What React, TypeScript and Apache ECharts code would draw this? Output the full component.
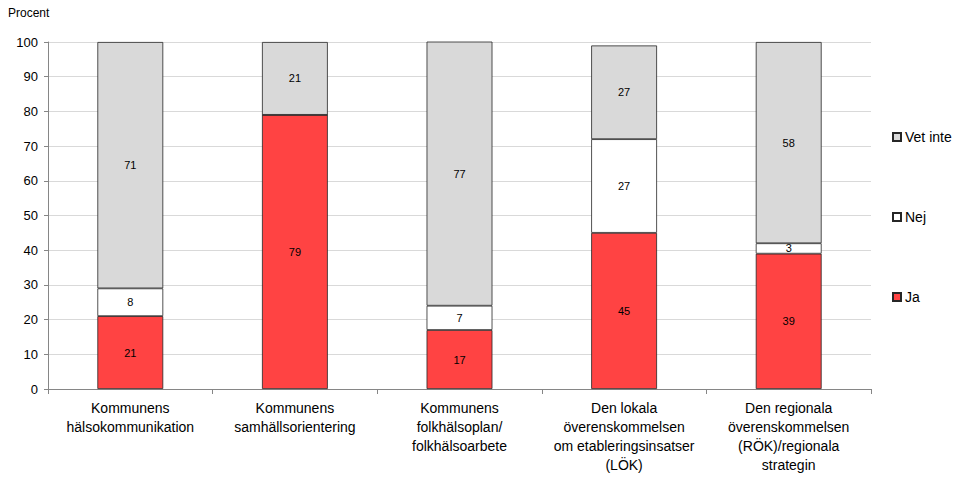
import React, { useEffect, useRef } from "react";
import * as echarts from "echarts";

const categories = [
  "Kommunens\nhälsokommunikation",
  "Kommunens\nsamhällsorientering",
  "Kommunens\nfolkhälsoplan/\nfolkhälsoarbete",
  "Den lokala\növerenskommelsen\nom etableringsinsatser\n(LÖK)",
  "Den regionala\növerenskommelsen\n(RÖK)/regionala\nstrategin",
];
const ja = [21, 79, 17, 45, 39];
const nej = [8, 0, 7, 27, 3];
const vetInte = [71, 21, 77, 27, 58];
const yTicks = { min: 0, max: 100, interval: 10 };

const FONT = "'Liberation Sans', Arial, sans-serif";

export default function App() {
  const ref = useRef<HTMLDivElement>(null);
  useEffect(() => {
    if (!ref.current) return;
    const chart = echarts.init(ref.current, undefined, { renderer: "svg" });
    const label = {
      show: true,
      position: "inside",
      color: "#000",
      fontSize: 11,
      fontFamily: FONT,
      formatter: (p: any) => (p.value ? String(p.value) : ""),
    };
    const mk = (name: string, data: number[], color: string) => ({
      name,
      type: "bar",
      stack: "s",
      data,
      barCategoryGap: "60%",
      itemStyle: { color, borderColor: "#262626", borderWidth: 0.8 },
      label,
      emphasis: { disabled: true },
    });
    const legendBase = {
      orient: "vertical",
      left: 887,
      icon: "rect",
      itemWidth: 8,
      itemHeight: 8,
      itemGap: 4,
      selectedMode: false,
      textStyle: { fontSize: 14, fontFamily: FONT, color: "#000", padding: [0, 0, 0, -1] },
    };
    chart.setOption({
      animation: false,
      textStyle: { fontFamily: FONT },
      grid: { left: 48, right: 85, top: 42, bottom: 88 },
      legend: [
        { ...legendBase, top: 125, data: ["Vet inte"] },
        { ...legendBase, top: 205, data: ["Nej"] },
        { ...legendBase, top: 285, data: ["Ja"] },
      ],
      graphic: [
        {
          type: "text",
          left: 8,
          top: 7,
          style: { text: "Procent", fontSize: 12, fontFamily: FONT, fill: "#000" },
        },
      ],
      xAxis: {
        type: "category",
        data: categories,
        axisLine: { lineStyle: { color: "#868686" } },
        axisTick: { show: true, length: 5, lineStyle: { color: "#868686" } },
        axisLabel: {
          interval: 0,
          fontSize: 14,
          lineHeight: 19,
          color: "#000",
          fontFamily: FONT,
          margin: 9,
        },
      },
      yAxis: {
        type: "value",
        ...yTicks,
        axisLine: { show: true, lineStyle: { color: "#868686" } },
        axisTick: { show: true, length: 4, lineStyle: { color: "#868686" } },
        axisLabel: { fontSize: 13, color: "#000", fontFamily: FONT, margin: 10 },
        splitLine: { lineStyle: { color: "#d9d9d9" } },
      },
      series: [
        mk("Ja", ja, "#ff4343"),
        mk("Nej", nej, "#ffffff"),
        mk("Vet inte", vetInte, "#d9d9d9"),
      ],
    });
    return () => chart.dispose();
  }, []);
  return <div ref={ref} style={{ width: 956, height: 477, position: "absolute", left: 0, top: 0 }} />;
}
